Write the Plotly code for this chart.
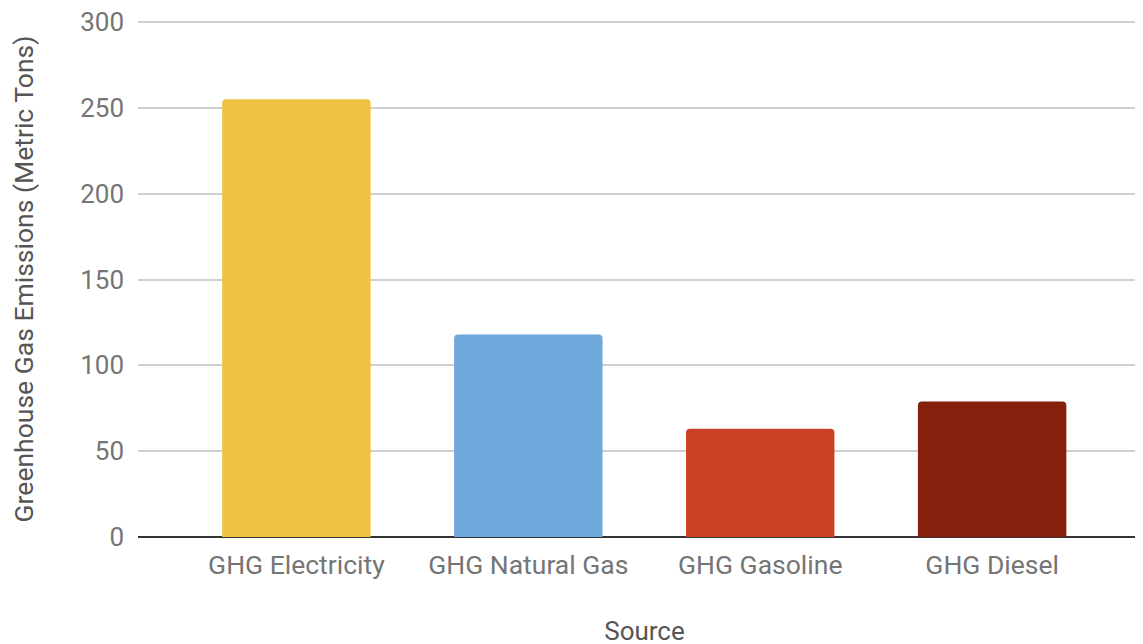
import plotly.graph_objects as go

categories = ["GHG Electricity", "GHG Natural Gas", "GHG Gasoline", "GHG Diesel"]
emissions = [255, 118, 63, 79]
colors = ["#F1C241", "#6FA8DC", "#CC4125", "#85200C"]
y_ticks = [0, 50, 100, 150, 200, 250, 300]

fig = go.Figure(go.Bar(
    x=categories, y=emissions,
    marker=dict(color=colors, line=dict(width=0), cornerradius=4),
    width=0.64,
))

font = "Roboto, Arial, sans-serif"
fig.update_layout(
    width=1143, height=644,
    margin=dict(l=130, r=0, t=13, b=115),
    paper_bgcolor="white", plot_bgcolor="white",
    font=dict(family=font, color="#757575"),
    showlegend=False,
    xaxis=dict(
        range=[-0.683, 3.685],
        tickfont=dict(size=26.5, color="#757575"),
        showgrid=False, ticks="",
        showline=False, ticklabelstandoff=9,
        title=dict(text="Source", font=dict(size=26, color="#555555"), standoff=43),
    ),
    yaxis=dict(
        range=[0, 300.6], tickvals=y_ticks,
        tickfont=dict(size=26, color="#757575"),
        gridcolor="#D0D0D0", gridwidth=1.5,
        zeroline=True, zerolinecolor="#333333", zerolinewidth=2,
        ticks="", ticklabelstandoff=13, ticklabeloverflow="allow",
        title=dict(text="Greenhouse Gas Emissions (Metric Tons)", font=dict(size=26.5, color="#555555"), standoff=46),
    ),
)

fig.write_html("out.html")
